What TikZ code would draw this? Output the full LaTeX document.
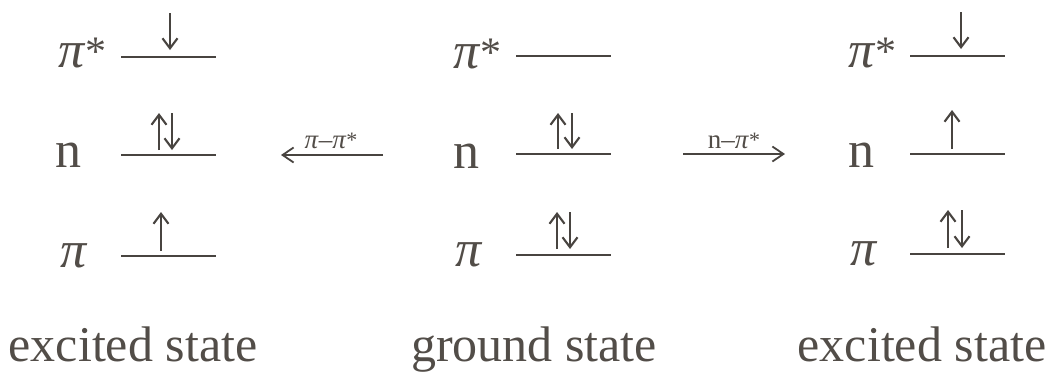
\documentclass[tikz,border=0pt]{standalone}
\usepackage{fontspec}
\setmainfont{Liberation Serif}
\usetikzlibrary{arrows.meta}
\definecolor{ink}{RGB}{72,68,64}
\definecolor{txt}{RGB}{82,77,72}
\newcommand{\bigfont}{\fontsize{52}{52}\selectfont}
\newcommand{\stfont}{\fontsize{50}{50}\selectfont}
\newcommand{\smfont}{\fontsize{27}{27}\selectfont}
\newcommand{\PiStar}{\textit{π}{\fontsize{42}{42}\selectfont\raisebox{2pt}{*}}}
\begin{document}
\begin{tikzpicture}[x=1pt,y=-1pt,
  level/.style={draw=ink,line width=2pt},
  spin/.style={draw=ink,line width=2.1pt,-{Straight Barb[length=10pt,width=15pt,line width=2.1pt]}},
  trans/.style={draw=ink,line width=1.8pt,-{Straight Barb[length=11pt,width=15pt,line width=1.8pt]}},
  lab/.style={text=txt,font=\bigfont,inner sep=0pt,anchor=base west},
  slab/.style={text=txt,font=\smfont,inner sep=0pt,anchor=base},
  state/.style={text=txt,font=\stfont,inner sep=0pt,anchor=base}]
\useasboundingbox[fill=white] (0,0) rectangle (1053,373);

% ---------- left: excited state (pi-pi*) ----------
\node[lab] (Lps) at (58,67) {\PiStar};
\node[lab] (Ln) at (55,167) {n};
\node[lab] (Lp) at (60,267) {\textit{π}};
\coordinate (Lps1) at (121,57); \coordinate (Lps2) at (216,57);
\coordinate (Ln1) at (121,155); \coordinate (Ln2) at (216,155);
\coordinate (Lp1) at (121,256); \coordinate (Lp2) at (216,256);
\draw[level] (Lps1) -- (Lps2);
\draw[level] (Ln1) -- (Ln2);
\draw[level] (Lp1) -- (Lp2);
\coordinate (La1) at (170,13); \coordinate (La2) at (170,50);
\draw[spin] (La1) -- (La2);
\coordinate (Lb1) at (159,150); \coordinate (Lb2) at (159,113);
\draw[spin] (Lb1) -- (Lb2);
\coordinate (Lc1) at (172,113); \coordinate (Lc2) at (172,150);
\draw[spin] (Lc1) -- (Lc2);
\coordinate (Ld1) at (161,251); \coordinate (Ld2) at (161,212);
\draw[spin] (Ld1) -- (Ld2);

% ---------- middle: ground state ----------
\node[lab] (Mps) at (453,68) {\PiStar};
\node[lab] (Mn) at (453,168) {n};
\node[lab] (Mp) at (455,266) {\textit{π}};
\coordinate (Mps1) at (516,56); \coordinate (Mps2) at (611,56);
\coordinate (Mn1) at (516,154); \coordinate (Mn2) at (611,154);
\coordinate (Mp1) at (516,255); \coordinate (Mp2) at (611,255);
\draw[level] (Mps1) -- (Mps2);
\draw[level] (Mn1) -- (Mn2);
\draw[level] (Mp1) -- (Mp2);
\coordinate (Mb1) at (558,149); \coordinate (Mb2) at (558,113);
\draw[spin] (Mb1) -- (Mb2);
\coordinate (Mc1) at (572,113); \coordinate (Mc2) at (572,149);
\draw[spin] (Mc1) -- (Mc2);
\coordinate (Md1) at (557,249); \coordinate (Md2) at (557,212);
\draw[spin] (Md1) -- (Md2);
\coordinate (Me1) at (570,212); \coordinate (Me2) at (570,249);
\draw[spin] (Me1) -- (Me2);

% ---------- right: excited state (n-pi*) ----------
\node[lab] (Rps) at (848,67) {\PiStar};
\node[lab] (Rn) at (848,167) {n};
\node[lab] (Rp) at (850,265) {\textit{π}};
\coordinate (Rps1) at (910,56); \coordinate (Rps2) at (1005,56);
\coordinate (Rn1) at (910,154); \coordinate (Rn2) at (1005,154);
\coordinate (Rp1) at (910,254); \coordinate (Rp2) at (1005,254);
\draw[level] (Rps1) -- (Rps2);
\draw[level] (Rn1) -- (Rn2);
\draw[level] (Rp1) -- (Rp2);
\coordinate (Ra1) at (961,12); \coordinate (Ra2) at (961,49);
\draw[spin] (Ra1) -- (Ra2);
\coordinate (Rb1) at (952,149); \coordinate (Rb2) at (952,110);
\draw[spin] (Rb1) -- (Rb2);
\coordinate (Rc1) at (948,248); \coordinate (Rc2) at (948,210);
\draw[spin] (Rc1) -- (Rc2);
\coordinate (Rd1) at (962,210); \coordinate (Rd2) at (962,248);
\draw[spin] (Rd1) -- (Rd2);

% ---------- transitions ----------
\coordinate (T1a) at (383,155); \coordinate (T1b) at (281,155);
\draw[trans] (T1a) -- (T1b);
\node[slab] (T1l) at (331,148) {\textit{π}–\textit{π}{\fontsize{22}{22}\selectfont\raisebox{1pt}{*}}};
\coordinate (T2a) at (683,154); \coordinate (T2b) at (785,154);
\draw[trans] (T2a) -- (T2b);
\node[slab] (T2l) at (734,148) {n–\textit{π}{\fontsize{22}{22}\selectfont\raisebox{1pt}{*}}};

% ---------- state captions ----------
\node[state] (S1) at (133,361) {excited state};
\node[state] (S2) at (534,361) {ground state};
\node[state] (S3) at (922,361) {excited state};
\end{tikzpicture}
\end{document}
